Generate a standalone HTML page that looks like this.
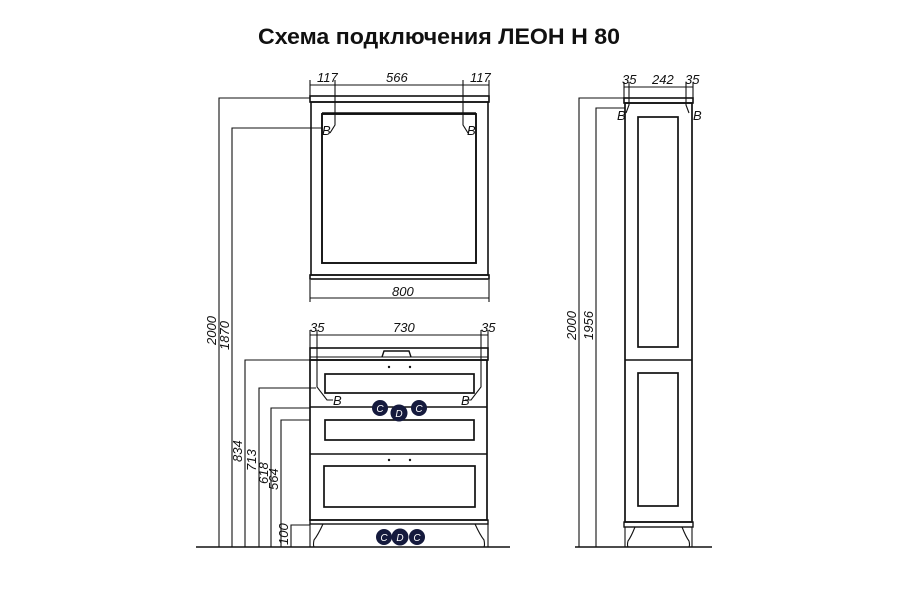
<!DOCTYPE html>
<html><head><meta charset="utf-8"><style>
body{margin:0;background:#fff;width:900px;height:600px;overflow:hidden}
svg{display:block}
.t{font-family:"Liberation Sans","DejaVu Sans",sans-serif;font-style:italic;font-size:13px;fill:#111}
.c{font-family:"Liberation Sans",sans-serif;font-style:italic;font-size:10px;fill:#fff;text-anchor:middle}
</style></head><body>
<svg width="900" height="600" viewBox="0 0 900 600" xmlns="http://www.w3.org/2000/svg">
<text x="439" y="44" text-anchor="middle" textLength="362" lengthAdjust="spacingAndGlyphs" style="font-family:'Liberation Sans','DejaVu Sans',sans-serif;font-weight:bold;font-size:22px" fill="#111">Схема подключения ЛЕОН Н 80</text>
<g stroke="#111" fill="none" stroke-width="1.1">
<!-- mirror -->
<line x1="310" y1="85" x2="489" y2="85"/>
<line x1="310" y1="80" x2="310" y2="100"/><line x1="489" y1="80" x2="489" y2="100"/>
<polyline points="335,80 335,125 330,133"/><polyline points="463,80 463,125 468,133"/>
<rect x="310" y="96" width="179" height="6" stroke-width="1.6"/>
<rect x="311" y="102" width="177" height="173" stroke-width="1.6"/>
<line x1="322" y1="113" x2="476" y2="113" stroke-width="1.6"/>
<rect x="322" y="114" width="154" height="149" stroke-width="1.9"/>
<rect x="310" y="275" width="179" height="4" stroke-width="1.6"/>
<line x1="310" y1="298" x2="489" y2="298"/>
<line x1="310" y1="280" x2="310" y2="302"/><line x1="489" y1="280" x2="489" y2="302"/>
<!-- left dims -->
<polyline points="310,98 219,98 219,547"/>
<polyline points="322,128 232,128 232,547"/>
<polyline points="310,360 245,360 245,547"/>
<polyline points="316,388 259,388 259,547"/>
<polyline points="310,408 271,408 271,547"/>
<polyline points="310,420 281,420 281,547"/>
<polyline points="310,525 291,525 291,547"/>
<line x1="196" y1="547" x2="510" y2="547" stroke-width="1.4"/>
<!-- vanity -->
<line x1="310" y1="335" x2="488" y2="335"/>
<line x1="310" y1="330" x2="310" y2="350"/><line x1="488" y1="330" x2="488" y2="350"/>
<polyline points="317,330 317,387 327,400 333,400"/><polyline points="481,330 481,387 471,400 465,400"/>
<rect x="310" y="348" width="178" height="12" stroke-width="1.6"/>
<line x1="310" y1="357" x2="488" y2="357"/>
<path d="M382,357 L384,351 L409,351 L411,357" stroke-width="1.4"/>
<rect x="310" y="360" width="177" height="160" stroke-width="1.7"/>
<line x1="310" y1="407" x2="487" y2="407" stroke-width="1.6"/>
<line x1="310" y1="454" x2="487" y2="454" stroke-width="1.6"/>
<rect x="325" y="374" width="149" height="19" stroke-width="1.7"/>
<rect x="325" y="420" width="149" height="20" stroke-width="1.7"/>
<rect x="324" y="466" width="151" height="41" stroke-width="1.7"/>
<rect x="310" y="520" width="178" height="4" stroke-width="1.4"/>
<path d="M310,524 L310,547 M323,524 Q318,535 314,540 Q313,545 314,547 M488,524 L488,547 M475,524 Q480,535 484,540 Q485,545 484,547"/>
<!-- tower -->
<line x1="624" y1="87" x2="693" y2="87"/>
<line x1="624" y1="82" x2="624" y2="100"/><line x1="693" y1="82" x2="693" y2="100"/>
<polyline points="629,82 629,105 626,113"/><polyline points="686,82 686,105 689,113"/>
<rect x="624" y="98" width="69" height="5" stroke-width="1.6"/>
<rect x="625" y="103" width="67" height="419" stroke-width="1.7"/>
<rect x="638" y="117" width="40" height="230" stroke-width="1.7"/>
<line x1="625" y1="360" x2="692" y2="360" stroke-width="1.6"/>
<rect x="638" y="373" width="40" height="133" stroke-width="1.7"/>
<rect x="624" y="522" width="69" height="5" stroke-width="1.4"/>
<path d="M625,527 L625,547 M635,527 Q631,537 628,541 Q627,545 628,547 M692,527 L692,547 M682,527 Q686,537 689,541 Q690,545 689,547"/>
<polyline points="624,98 579,98 579,547"/>
<polyline points="625,108 596,108 596,547"/>
<line x1="575" y1="547" x2="712" y2="547" stroke-width="1.4"/>
</g>
<g fill="#111">
<circle cx="389" cy="367" r="1.2"/><circle cx="410" cy="367" r="1.2"/>
<circle cx="389" cy="460" r="1.2"/><circle cx="410" cy="460" r="1.2"/>
</g>
<!-- labels -->
<text class="t" x="317" y="82">117</text><text class="t" x="386" y="82">566</text><text class="t" x="470" y="82">117</text>
<text class="t" x="322" y="135">B</text><text class="t" x="467" y="135">B</text>
<text class="t" x="392" y="296">800</text>
<text class="t" x="310" y="332">35</text><text class="t" x="393" y="332">730</text><text class="t" x="481" y="332">35</text>
<text class="t" x="333" y="405">B</text><text class="t" x="461" y="405">B</text>
<text class="t" x="622" y="84">35</text><text class="t" x="652" y="84">242</text><text class="t" x="685" y="84">35</text>
<text class="t" x="617" y="120">B</text><text class="t" x="693" y="120">B</text>
<g class="t">
<text transform="translate(216,345) rotate(-90)">2000</text>
<text transform="translate(229,350) rotate(-90)">1870</text>
<text transform="translate(242,462) rotate(-90)">834</text>
<text transform="translate(256,471) rotate(-90)">713</text>
<text transform="translate(268,484) rotate(-90)">618</text>
<text transform="translate(278,490) rotate(-90)">564</text>
<text transform="translate(288,545) rotate(-90)">100</text>
<text transform="translate(576,340) rotate(-90)">2000</text>
<text transform="translate(593,340) rotate(-90)">1956</text>
</g>
<g fill="#151a3d">
<circle cx="380" cy="408" r="8"/><circle cx="419" cy="408" r="8"/><circle cx="399" cy="413" r="8.5"/>
<circle cx="384" cy="537" r="8"/><circle cx="417" cy="537" r="8"/><circle cx="400" cy="537" r="8.5"/>
</g>
<text class="c" x="380" y="412">C</text><text class="c" x="419" y="412">C</text><text class="c" x="399" y="417">D</text>
<text class="c" x="384" y="541">C</text><text class="c" x="417" y="541">C</text><text class="c" x="400" y="541">D</text>
</svg>
</body></html>
